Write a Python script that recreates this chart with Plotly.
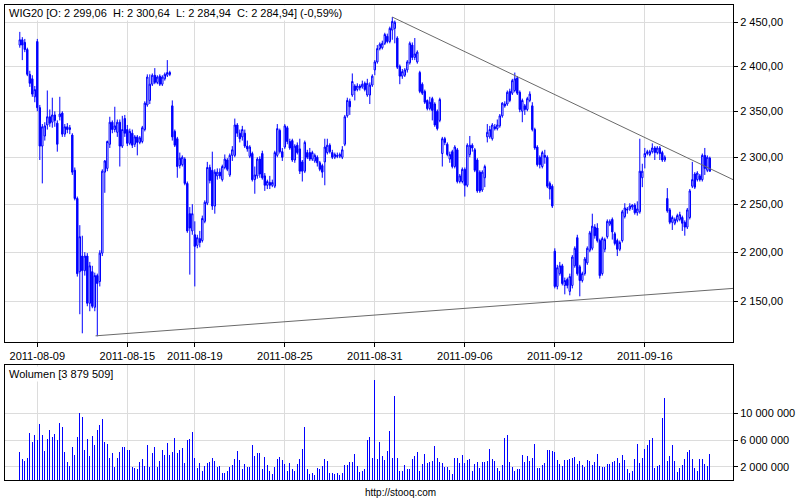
import math
import plotly.graph_objects as go

# ---------------- data (hourly bars, 2011-08-08 .. 2011-09-20) ----------------
tick_idx = [7, 43, 70, 106, 142, 178, 214, 250]
tick_lbl = ["2011-08-09", "2011-08-15", "2011-08-19", "2011-08-25",
            "2011-08-31", "2011-09-06", "2011-09-12", "2011-09-16"]

opens = [
    2424, 2430, 2427, 2419, 2391, 2386, 2366,
    2428, 2354, 2312, 2323, 2335, 2344, 2338, 2346, 2337,
    2344, 2348, 2325, 2333, 2330, 2324, 2286, 2256, 2180,
    2196, 2181, 2196, 2148, 2180, 2144, 2176, 2170, 2199,
    2284, 2288, 2314, 2338, 2330, 2327, 2338, 2312, 2342,
    2330, 2315, 2326, 2314, 2322, 2316, 2317, 2330, 2357,
    2362, 2380, 2390, 2382, 2389, 2380, 2386, 2390, 2393,
    2356, 2328, 2320, 2291, 2292, 2298, 2272, 2240, 2222,
    2218, 2207, 2214, 2212, 2232, 2251, 2289, 2286, 2248,
    2280, 2284, 2276, 2289, 2297, 2281, 2302, 2302, 2335,
    2326, 2322, 2326, 2312, 2301, 2304, 2276, 2280, 2298,
    2304, 2280, 2270, 2273, 2270, 2269, 2302, 2329, 2306,
    2311, 2332, 2317, 2318, 2297, 2313, 2309, 2295, 2285,
    2305, 2305, 2298, 2296, 2300, 2294, 2291, 2295, 2305,
    2313, 2305, 2300, 2302, 2301, 2300, 2314, 2345, 2361,
    2368, 2378, 2374, 2378, 2377, 2381, 2368, 2368, 2379,
    2396, 2405, 2420, 2421, 2426, 2434, 2428, 2441, 2443,
    2432, 2400, 2389, 2390, 2396, 2404, 2424, 2410, 2405,
    2393, 2380, 2372, 2362, 2353, 2364, 2358, 2350, 2340,
    2304, 2320, 2314, 2298, 2306, 2290, 2308, 2274, 2274,
    2287, 2270, 2303, 2313, 2308, 2297, 2284, 2265, 2278,
    2322, 2322, 2320, 2333, 2331, 2334, 2345, 2358, 2358,
    2372, 2370, 2373, 2387, 2371, 2350, 2356, 2352, 2362,
    2356, 2330, 2311, 2300, 2290, 2302, 2300, 2272, 2269,
    2201, 2165, 2178, 2186, 2166, 2172, 2160, 2166, 2186,
    2215, 2185, 2171, 2178, 2189, 2202, 2204, 2226, 2225,
    2212, 2178, 2203, 2216, 2229, 2234, 2219, 2212, 2203,
    2212, 2237, 2245, 2245, 2247, 2249, 2241, 2242, 2278,
    2300, 2304, 2303, 2306, 2310, 2305, 2310, 2305, 2297,
    2256, 2244, 2231, 2230, 2233, 2234, 2236, 2231, 2226,
    2236, 2269, 2282, 2276, 2280, 2276, 2302, 2286, 2299.06,
]

highs = [
    2439, 2433, 2431, 2421, 2395, 2390, 2378,
    2431, 2357, 2336, 2338, 2373, 2352, 2365, 2350, 2340,
    2366, 2350, 2336, 2337, 2335, 2326, 2289, 2258, 2228,
    2217, 2200, 2199, 2190, 2186, 2179, 2178, 2202, 2287,
    2297, 2318, 2344, 2340, 2355, 2341, 2341, 2345, 2346,
    2335, 2331, 2330, 2324, 2324, 2323, 2334, 2361, 2391,
    2391, 2392, 2398, 2390, 2391, 2390, 2393, 2407, 2395,
    2362, 2330, 2322, 2305, 2302, 2300, 2274, 2247, 2250,
    2232, 2218, 2222, 2238, 2254, 2295, 2292, 2306, 2287,
    2288, 2288, 2292, 2303, 2299, 2304, 2312, 2342, 2337,
    2330, 2334, 2330, 2318, 2313, 2306, 2290, 2300, 2301,
    2307, 2283, 2276, 2280, 2276, 2307, 2336, 2331, 2310,
    2336, 2334, 2320, 2320, 2314, 2316, 2320, 2297, 2318,
    2308, 2310, 2307, 2304, 2302, 2296, 2293, 2320, 2320,
    2315, 2308, 2305, 2305, 2305, 2312, 2346, 2365, 2364,
    2392, 2380, 2381, 2380, 2384, 2383, 2386, 2382, 2391,
    2407, 2424, 2427, 2429, 2438, 2437, 2445, 2456, 2452,
    2434, 2402, 2397, 2398, 2407, 2428, 2427, 2432, 2418,
    2395, 2382, 2374, 2363, 2366, 2366, 2360, 2352, 2365,
    2322, 2322, 2316, 2306, 2308, 2313, 2310, 2282, 2289,
    2289, 2315, 2323, 2315, 2310, 2299, 2286, 2286, 2292,
    2336, 2334, 2337, 2336, 2341, 2347, 2360, 2361, 2373,
    2375, 2386, 2393, 2389, 2373, 2364, 2358, 2366, 2372,
    2360, 2332, 2313, 2302, 2307, 2308, 2302, 2274, 2271,
    2204, 2187, 2190, 2188, 2174, 2174, 2178, 2197, 2206,
    2218, 2187, 2180, 2195, 2206, 2222, 2240, 2229, 2230,
    2214, 2216, 2215, 2234, 2234, 2236, 2221, 2214, 2212,
    2244, 2251, 2247, 2251, 2250, 2251, 2253, 2320, 2293,
    2310, 2308, 2308, 2315, 2312, 2312, 2312, 2307, 2302,
    2267, 2246, 2238, 2236, 2240, 2242, 2238, 2233, 2246,
    2266, 2295, 2284, 2285, 2282, 2304, 2310, 2302, 2300.64,
]

lows = [
    2421, 2407, 2416, 2389, 2377, 2366, 2360,
    2350, 2297, 2272, 2318, 2330, 2333, 2332, 2333, 2306,
    2340, 2322, 2322, 2326, 2325, 2281, 2254, 2175, 2137,
    2118, 2176, 2145, 2140, 2143, 2140, 2115, 2165, 2196,
    2262, 2285, 2310, 2326, 2327, 2322, 2290, 2310, 2322,
    2312, 2313, 2310, 2311, 2302, 2314, 2315, 2328, 2355,
    2358, 2378, 2380, 2380, 2378, 2378, 2384, 2388, 2389,
    2318, 2311, 2278, 2288, 2290, 2270, 2220, 2177, 2218,
    2165, 2204, 2205, 2210, 2230, 2249, 2272, 2244, 2240,
    2276, 2277, 2274, 2287, 2285, 2279, 2296, 2300, 2322,
    2316, 2318, 2310, 2306, 2299, 2274, 2261, 2277, 2278,
    2276, 2264, 2266, 2266, 2268, 2267, 2300, 2304, 2296,
    2309, 2314, 2308, 2295, 2294, 2303, 2282, 2274, 2283,
    2298, 2296, 2296, 2294, 2290, 2285, 2278, 2270, 2303,
    2304, 2298, 2298, 2299, 2299, 2298, 2312, 2343, 2346,
    2366, 2362, 2372, 2373, 2375, 2372, 2366, 2358, 2377,
    2390, 2403, 2418, 2419, 2424, 2426, 2426, 2430, 2426,
    2397, 2380, 2386, 2388, 2393, 2402, 2407, 2407, 2403,
    2370, 2368, 2358, 2351, 2351, 2340, 2333, 2329, 2338,
    2290, 2313, 2301, 2294, 2288, 2288, 2272, 2272, 2272,
    2258, 2268, 2300, 2306, 2284, 2262, 2262, 2263, 2268,
    2316, 2320, 2318, 2329, 2329, 2332, 2343, 2354, 2356,
    2360, 2368, 2371, 2368, 2349, 2338, 2346, 2350, 2360,
    2328, 2308, 2290, 2288, 2288, 2293, 2267, 2255, 2246,
    2163, 2162, 2176, 2166, 2157, 2163, 2156, 2163, 2184,
    2176, 2155, 2169, 2176, 2187, 2200, 2202, 2214, 2210,
    2173, 2176, 2200, 2214, 2227, 2213, 2207, 2196, 2201,
    2210, 2235, 2240, 2243, 2244, 2239, 2238, 2240, 2268,
    2288, 2302, 2301, 2304, 2297, 2303, 2297, 2295, 2295,
    2241, 2229, 2223, 2228, 2231, 2232, 2222, 2217, 2224,
    2234, 2267, 2266, 2274, 2274, 2274, 2281, 2284, 2284.94,
]

closes = [
    2430, 2424, 2419, 2391, 2381, 2369, 2374,
    2354, 2312, 2333, 2334, 2344, 2337, 2346, 2340, 2314,
    2347, 2325, 2333, 2330, 2332, 2284, 2256, 2178, 2216,
    2181, 2196, 2148, 2186, 2145, 2176, 2168, 2199, 2285,
    2296, 2317, 2338, 2330, 2334, 2338, 2312, 2330, 2326,
    2315, 2328, 2313, 2322, 2316, 2321, 2332, 2359, 2388,
    2380, 2390, 2382, 2388, 2380, 2388, 2391, 2393, 2391,
    2322, 2313, 2290, 2299, 2300, 2272, 2222, 2225, 2240,
    2206, 2215, 2210, 2235, 2252, 2289, 2275, 2248, 2284,
    2284, 2280, 2290, 2298, 2287, 2302, 2308, 2335, 2326,
    2320, 2330, 2312, 2309, 2311, 2276, 2281, 2298, 2282,
    2278, 2270, 2274, 2270, 2273, 2305, 2331, 2306, 2300,
    2334, 2317, 2310, 2297, 2312, 2305, 2285, 2285, 2316,
    2300, 2298, 2305, 2302, 2294, 2287, 2284, 2311, 2313,
    2306, 2300, 2303, 2301, 2303, 2308, 2344, 2362, 2355,
    2383, 2373, 2378, 2376, 2380, 2374, 2381, 2379, 2389,
    2405, 2420, 2425, 2426, 2436, 2428, 2443, 2451, 2450,
    2399, 2389, 2394, 2396, 2405, 2426, 2410, 2414, 2416,
    2372, 2370, 2360, 2353, 2360, 2351, 2335, 2331, 2363,
    2320, 2316, 2303, 2303, 2290, 2311, 2274, 2280, 2287,
    2270, 2313, 2313, 2310, 2286, 2264, 2264, 2284, 2290,
    2327, 2330, 2335, 2331, 2335, 2345, 2359, 2356, 2371,
    2362, 2384, 2386, 2370, 2352, 2362, 2352, 2364, 2369,
    2330, 2310, 2292, 2292, 2305, 2300, 2269, 2266, 2248,
    2165, 2184, 2186, 2168, 2171, 2166, 2175, 2195, 2204,
    2178, 2171, 2178, 2193, 2204, 2220, 2227, 2217, 2212,
    2176, 2214, 2213, 2232, 2232, 2221, 2209, 2203, 2210,
    2242, 2246, 2244, 2248, 2249, 2241, 2245, 2285, 2285,
    2304, 2306, 2306, 2310, 2305, 2310, 2304, 2297, 2300,
    2243, 2231, 2236, 2234, 2238, 2239, 2230, 2226, 2244,
    2264, 2276, 2268, 2283, 2276, 2302, 2288, 2300, 2284.94,
]

# volume in millions of shares
volumes_m = [
    4.14, 3.14, 2.79, 3.29, 7.14, 5.79, 6.74,
    5.99, 8.38, 6.74, 4.34, 6.14, 7.49, 6.44, 6.89, 5.99,
    8.53, 7.98, 4.19, 2.69, 2.10, 4.94, 3.74, 6.44, 10.03,
    9.48, 4.49, 6.14, 3.59, 6.59, 5.29, 7.49, 8.23, 9.13,
    5.69, 5.39, 3.29, 4.04, 1.95, 3.29, 4.19, 4.94, 4.94,
    4.49, 4.49, 1.90, 1.80, 1.65, 2.69, 3.14, 2.10, 5.24,
    1.95, 4.04, 4.94, 1.95, 2.84, 4.49, 3.74, 5.54, 3.74,
    4.19, 6.29, 4.04, 4.49, 4.79, 2.54, 5.99, 6.14, 7.19,
    3.29, 1.80, 2.54, 1.35, 2.10, 2.54, 2.69, 3.29, 2.84,
    1.95, 2.10, 1.05, 1.05, 1.35, 1.95, 2.25, 3.14, 4.34,
    2.99, 1.65, 2.40, 1.95, 1.95, 5.24, 3.59, 4.04, 4.04,
    1.65, 3.44, 2.25, 1.35, 0.90, 1.95, 3.14, 3.44, 2.99,
    2.40, 1.35, 2.54, 1.65, 1.35, 2.40, 3.14, 4.64, 7.93,
    1.65, 0.90, 1.05, 0.75, 1.80, 1.65, 2.10, 3.14, 2.84,
    1.05, 1.05, 0.90, 1.05, 0.75, 1.05, 2.25, 2.25, 2.69,
    2.69, 3.89, 2.10, 1.20, 1.35, 1.65, 5.99, 6.44, 3.29,
    14.97, 3.14, 5.69, 3.59, 2.99, 4.34, 7.34, 3.29, 12.6,
    3.3, 1.3, 1.4, 2.2, 1.6, 1.6, 3.1, 3.6, 4.2,
    1.3, 2.4, 3.9, 2.6, 2.7, 2.9, 5.1, 3.3, 2.7,
    2.6, 1.9, 1.9, 1.5, 0.9, 3.3, 3.3, 2.6, 3.7,
    2.6, 3.0, 3.1, 1.3, 2.4, 2.7, 1.8, 2.7, 2.7,
    2.9, 4.6, 3.1, 2.9, 1.8, 1.3, 2.2, 6.3, 6.7,
    2.7, 1.9, 1.3, 1.6, 1.6, 3.7, 2.7, 3.6, 2.9,
    3.3, 5.4, 1.8, 1.8, 2.2, 2.6, 4.5, 4.5, 4.3,
    4.2, 3.0, 2.4, 2.1, 3.0, 3.0, 3.1, 3.3, 3.4,
    2.4, 2.9, 2.2, 1.9, 3.0, 2.9, 2.2, 2.7, 3.9,
    2.1, 1.9, 1.9, 2.4, 2.4, 2.7, 2.9, 3.3, 2.6,
    3.7, 3.0, 1.6, 1.0, 1.3, 3.1, 5.4, 2.6, 3.3,
    4.6, 5.2, 6.0, 6.3, 1.8, 2.1, 2.2, 9.3, 12.4,
    2.9, 3.6, 5.2, 2.9, 1.2, 1.8, 2.2, 3.1, 4.2,
    4.5, 3.1, 1.8, 1.3, 3.1, 3.1, 2.4, 2.1, 3.879509,
]

price_ticks = [2150, 2200, 2250, 2300, 2350, 2400, 2450]
price_tick_text = ["2 150,00", "2 200,00", "2 250,00", "2 300,00",
                   "2 350,00", "2 400,00", "2 450,00"]
vol_ticks = [2, 6, 10]
vol_tick_text = ["2 000 000", "6 000 000", "10 000 000"]

# trend lines: (bar index, price) anchors
trend_top_x = [149, 285.3]
trend_top_y = [2456, 2276]
trend_bot_x = [30.3, 285.3]
trend_bot_y = [2115.5, 2163]

header_text = ("WIG20 [O: 2 299,06\u00a0\u00a0H: 2 300,64\u00a0\u00a0L: 2 284,94"
               "\u00a0\u00a0C: 2 284,94] (-0,59%)")
volume_text = "Wolumen [3 879 509]"
footer_text = "http://stooq.com"

# ---------------- layout geometry ----------------
W, H = 800, 500
left_px, right_px = 5, 733
main_top, main_bot = 5, 342
vol_top, vol_bot = 365, 480
first_bar_px, bar_px = 19.8, 2.5
price_top, price_bot = 2469.9, 2109.4
vol_max = 17.3

x = list(range(len(closes)))
x_range = [(left_px - first_bar_px) / bar_px, (right_px - first_bar_px) / bar_px]

BLUE = "#0000ff"
GRID = "#dcdcdc"
FONT = dict(family="Liberation Sans, Arial, sans-serif", size=11, color="black")

fig = go.Figure()
fig.add_trace(go.Candlestick(
    x=x, open=opens, high=highs, low=lows, close=closes,
    increasing=dict(line=dict(color=BLUE, width=1), fillcolor="#ffffff"),
    decreasing=dict(line=dict(color=BLUE, width=1), fillcolor=BLUE),
    whiskerwidth=0, hoverinfo="skip", showlegend=False,
    xaxis="x", yaxis="y"))
for tx, ty in ((trend_top_x, trend_top_y), (trend_bot_x, trend_bot_y)):
    fig.add_trace(go.Scatter(x=tx, y=ty, mode="lines",
                             line=dict(color="#6a6a6a", width=1),
                             hoverinfo="skip", showlegend=False,
                             xaxis="x", yaxis="y"))
# near-opaque colour makes plotly round bar edges to whole pixels (1 px bars)
fig.add_trace(go.Bar(x=x, y=volumes_m, width=0.4,
                     marker=dict(color="rgba(0,0,255,0.995)", line=dict(width=0)),
                     hoverinfo="skip", showlegend=False,
                     xaxis="x2", yaxis="y2"))

xdom = [left_px / W, right_px / W]
axis_common = dict(showline=True, linecolor="black", linewidth=1, mirror=True,
                   zeroline=False, gridcolor=GRID, gridwidth=1, tickfont=FONT)

fig.update_layout(
    width=W, height=H,
    margin=dict(l=0, r=0, t=0, b=0),
    paper_bgcolor="white", plot_bgcolor="white",
    showlegend=False, bargap=0, bargroupgap=0, boxgap=0.2,
    xaxis=dict(domain=xdom, range=x_range, anchor="y",
               tickmode="array", tickvals=tick_idx, ticktext=tick_lbl,
               showgrid=True, ticks="outside", ticklen=4, tickcolor="black",
               rangeslider=dict(visible=False), **axis_common),
    yaxis=dict(domain=[1 - main_bot / H, 1 - main_top / H], type="log",
               range=[math.log10(price_bot), math.log10(price_top)],
               side="right", anchor="x",
               tickmode="array", tickvals=price_ticks, ticktext=price_tick_text,
               showgrid=True, ticks="outside", ticklen=4, tickcolor="black",
               **axis_common),
    xaxis2=dict(domain=xdom, range=x_range, anchor="y2",
                tickmode="array", tickvals=tick_idx, showticklabels=False,
                showgrid=True, ticks="", **axis_common),
    yaxis2=dict(domain=[1 - vol_bot / H, 1 - vol_top / H], range=[0, vol_max],
                side="right", anchor="x2",
                tickmode="array", tickvals=vol_ticks, ticktext=vol_tick_text,
                showgrid=True, ticks="outside", ticklen=4, tickcolor="black",
                **axis_common),
    annotations=[
        dict(text=header_text, xref="paper", yref="paper",
             x=7 / W, y=1 - 13 / H, xanchor="left", yanchor="middle",
             showarrow=False, bgcolor="white", borderpad=1, font=FONT),
        dict(text=volume_text, xref="paper", yref="paper",
             x=7 / W, y=1 - 374 / H, xanchor="left", yanchor="middle",
             showarrow=False, bgcolor="white", borderpad=1, font=FONT),
        dict(text=footer_text, xref="paper", yref="paper",
             x=0.5, y=1 - 492 / H, xanchor="center", yanchor="middle",
             showarrow=False, font=dict(family=FONT["family"], size=10, color="black")),
    ],
)

fig.write_html("out.html", config={"displayModeBar": False},
               post_script="document.body.style.margin='0';document.body.style.overflow='hidden';")
